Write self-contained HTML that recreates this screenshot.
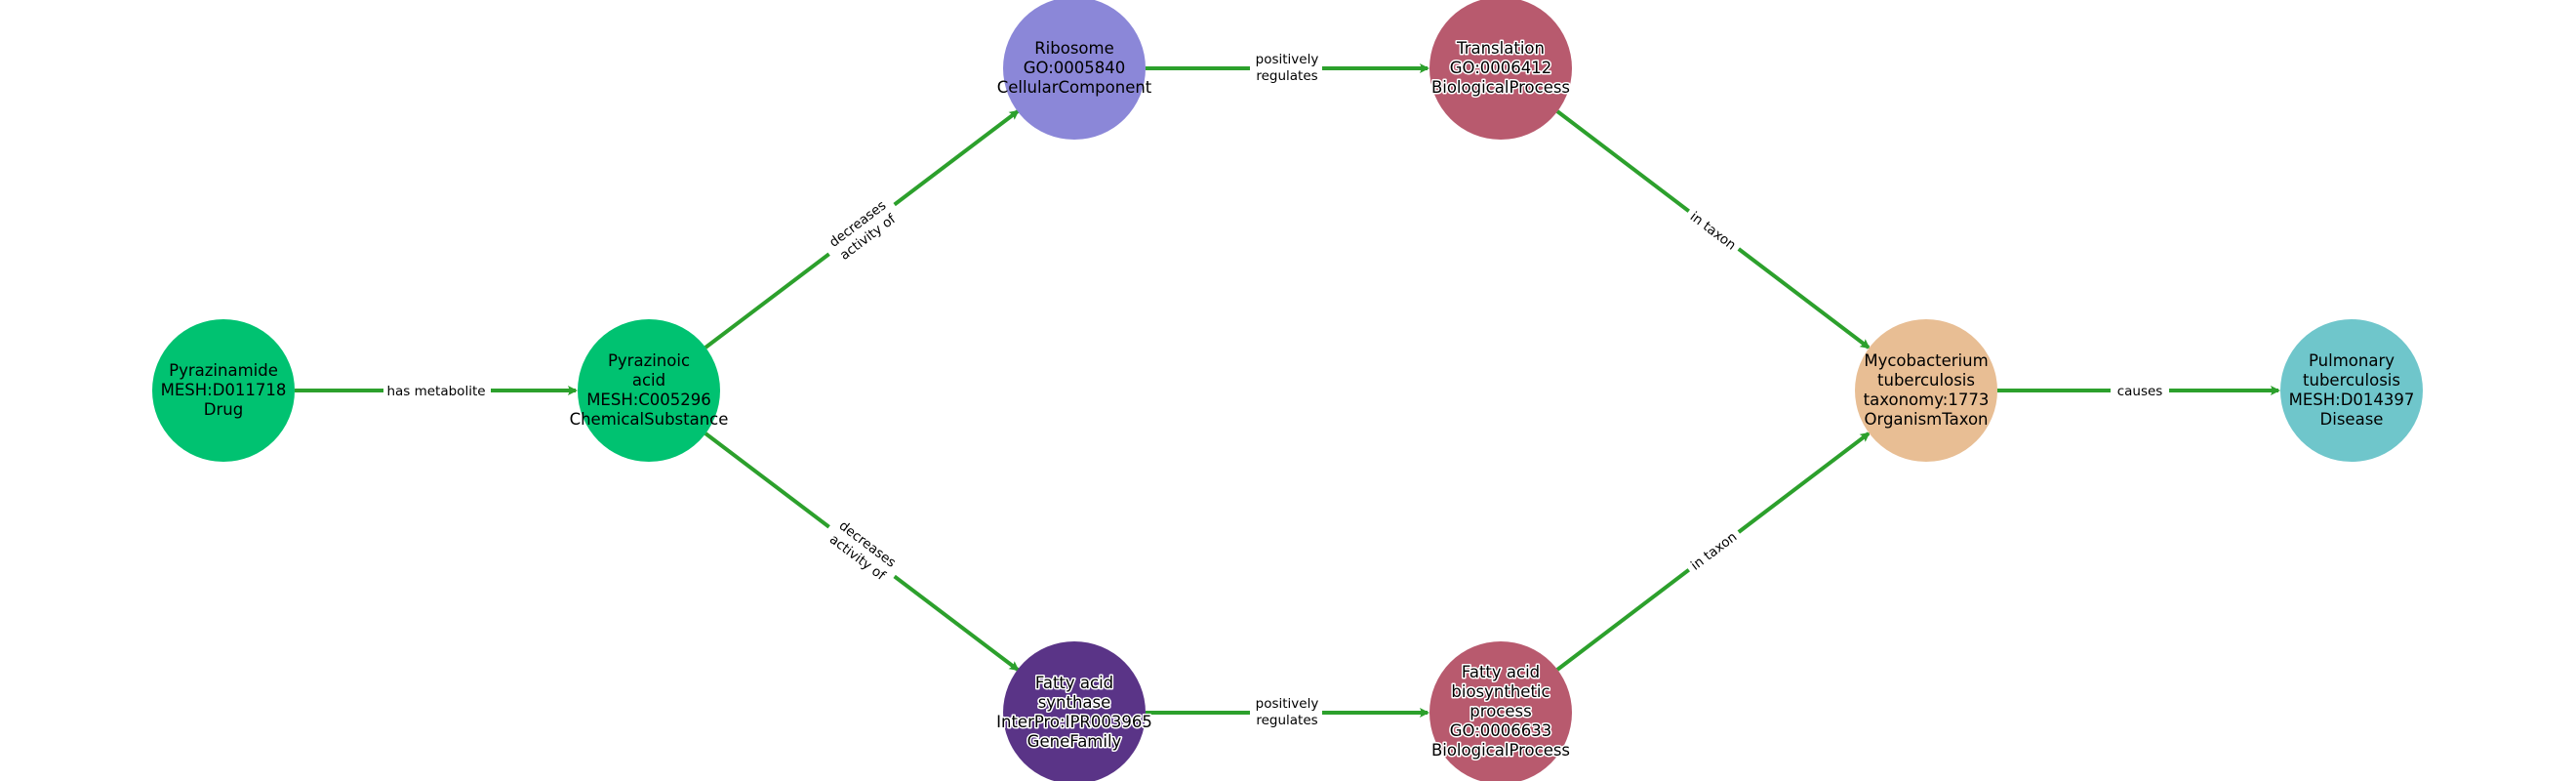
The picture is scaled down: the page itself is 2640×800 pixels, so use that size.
<!DOCTYPE html>
<html><head><meta charset="utf-8"><style>
html,body{margin:0;padding:0;background:#fff;}
svg{display:block;}
.n{font-family:"DejaVu Sans","Liberation Sans",sans-serif;font-size:16.5px;fill:#000;text-anchor:middle;}
.o{stroke:#fff;stroke-width:3px;paint-order:stroke;stroke-linejoin:round;}
.e{font-family:"DejaVu Sans","Liberation Sans",sans-serif;font-size:13.5px;fill:#000;text-anchor:middle;}
.l{stroke:#2ca02c;stroke-width:4;fill:none;}
</style></head><body>
<svg width="2640" height="800" viewBox="0 0 2640 800" xmlns="http://www.w3.org/2000/svg">
<defs><marker id="a" markerWidth="10" markerHeight="10" refX="8" refY="5" orient="auto" markerUnits="userSpaceOnUse"><path d="M0,0 L10,5 L0,10 L2,5 Z" fill="#2ca02c"/></marker></defs>
<!-- edges -->
<line class="l" x1="302" y1="400" x2="590" y2="400" marker-end="url(#a)"/>
<line class="l" x1="723" y1="356" x2="1043" y2="114" marker-end="url(#a)"/>
<line class="l" x1="723" y1="444" x2="1043" y2="686" marker-end="url(#a)"/>
<line class="l" x1="1174" y1="70" x2="1463" y2="70" marker-end="url(#a)"/>
<line class="l" x1="1174" y1="730" x2="1463" y2="730" marker-end="url(#a)"/>
<line class="l" x1="1596" y1="114" x2="1915" y2="356" marker-end="url(#a)"/>
<line class="l" x1="1596" y1="686" x2="1915" y2="444" marker-end="url(#a)"/>
<line class="l" x1="2047" y1="400" x2="2335" y2="400" marker-end="url(#a)"/>
<!-- edge labels -->
<rect x="393" y="390" width="110" height="20" fill="#fff"/>
<text class="e" x="447" y="405">has metabolite</text>
<rect x="1281" y="50" width="74" height="38" fill="#fff"/>
<text class="e" x="1319" y="65">positively</text><text class="e" x="1319" y="82">regulates</text>
<rect x="1281" y="710" width="74" height="38" fill="#fff"/>
<text class="e" x="1319" y="725">positively</text><text class="e" x="1319" y="742">regulates</text>
<rect x="2163" y="390" width="60" height="20" fill="#fff"/>
<text class="e" x="2193" y="405">causes</text>
<g transform="translate(884,236) rotate(-37.1)"><rect x="-42" y="-19" width="84" height="38" fill="#fff"/><text class="e" x="0" y="-4">decreases</text><text class="e" x="0" y="13">activity of</text></g>
<g transform="translate(884,564) rotate(37.1)"><rect x="-42" y="-19" width="84" height="38" fill="#fff"/><text class="e" x="0" y="-4">decreases</text><text class="e" x="0" y="13">activity of</text></g>
<g transform="translate(1756,236) rotate(37.1)"><rect x="-32" y="-10" width="64" height="20" fill="#fff"/><text class="e" x="0" y="5">in taxon</text></g>
<g transform="translate(1756,564) rotate(-37.1)"><rect x="-32" y="-10" width="64" height="20" fill="#fff"/><text class="e" x="0" y="5">in taxon</text></g>
<!-- nodes -->
<circle cx="229" cy="400" r="73" fill="#00c271"/>
<text class="n" x="229" y="385">Pyrazinamide</text><text class="n" x="229" y="405">MESH:D011718</text><text class="n" x="229" y="425">Drug</text>
<circle cx="665" cy="400" r="73" fill="#00c271"/>
<text class="n" x="665" y="375">Pyrazinoic</text><text class="n" x="665" y="395">acid</text><text class="n" x="665" y="415">MESH:C005296</text><text class="n" x="665" y="435">ChemicalSubstance</text>
<circle cx="1101" cy="70" r="73" fill="#8b87d8"/>
<text class="n" x="1101" y="55">Ribosome</text><text class="n" x="1101" y="75">GO:0005840</text><text class="n" x="1101" y="95">CellularComponent</text>
<circle cx="1538" cy="70" r="73" fill="#b85a6e"/>
<text class="n o" x="1538" y="55">Translation</text><text class="n o" x="1538" y="75">GO:0006412</text><text class="n o" x="1538" y="95">BiologicalProcess</text>
<circle cx="1101" cy="730" r="73" fill="#5a3487"/>
<text class="n o" x="1101" y="705">Fatty acid</text><text class="n o" x="1101" y="725">synthase</text><text class="n o" x="1101" y="745">InterPro:IPR003965</text><text class="n o" x="1101" y="765">GeneFamily</text>
<circle cx="1538" cy="730" r="73" fill="#b85a6e"/>
<text class="n o" x="1538" y="694">Fatty acid</text><text class="n o" x="1538" y="714">biosynthetic</text><text class="n o" x="1538" y="734">process</text><text class="n o" x="1538" y="754">GO:0006633</text><text class="n o" x="1538" y="774">BiologicalProcess</text>
<circle cx="1974" cy="400" r="73" fill="#e8be94"/>
<text class="n" x="1974" y="375">Mycobacterium</text><text class="n" x="1974" y="395">tuberculosis</text><text class="n" x="1974" y="415">taxonomy:1773</text><text class="n" x="1974" y="435">OrganismTaxon</text>
<circle cx="2410" cy="400" r="73" fill="#6fc6cb"/>
<text class="n" x="2410" y="375">Pulmonary</text><text class="n" x="2410" y="395">tuberculosis</text><text class="n" x="2410" y="415">MESH:D014397</text><text class="n" x="2410" y="435">Disease</text>
</svg>
</body></html>
